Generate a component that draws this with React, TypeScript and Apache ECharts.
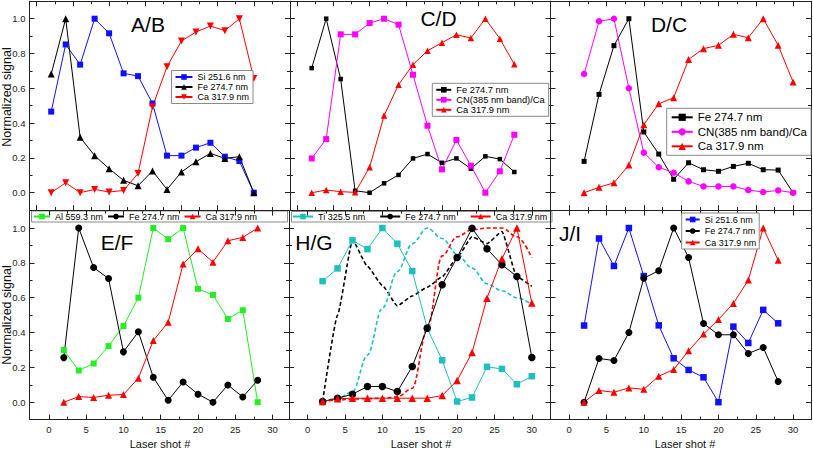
import React, { useEffect, useRef } from 'react';
import * as echarts from 'echarts';

// ---------- data ----------
const shots2to30 = [2, 4, 6, 8, 10, 12, 14, 16, 18, 20, 22, 24, 26, 28, 30];
const shots2to28 = [2, 4, 6, 8, 10, 12, 14, 16, 18, 20, 22, 24, 26, 28];

const yTickLabels = [0, 0.2, 0.4, 0.6, 0.8, 1.0];
const yMinorTicks = [0.1, 0.3, 0.5, 0.7, 0.9];
const xTickLabels = [0, 5, 10, 15, 20, 25, 30, 35];
const xMinorTicks = [2.5, 7.5, 12.5, 17.5, 22.5, 27.5, 32.5];

// A/B
const abSi = [0.466, 0.852, 0.736, 1.0, 0.916, 0.686, 0.67, 0.513, 0.213, 0.213, 0.259, 0.287, 0.207, 0.182, 0.0];
const abFe = [0.682, 1.0, 0.318, 0.213, 0.138, 0.071, 0.04, 0.125, 0.019, 0.119, 0.178, 0.226, 0.197, 0.207, 0.0];
const abCa = [0.0, 0.057, 0.0, 0.019, 0.004, 0.013, 0.111, 0.494, 0.724, 0.872, 0.923, 0.958, 0.931, 1.0, 0.657];

// C/D
const cdFe = [0.716, 1.0, 0.653, 0.011, 0.0, 0.054, 0.102, 0.197, 0.222, 0.172, 0.197, 0.138, 0.209, 0.193, 0.119];
const cdCN = [0.197, 0.308, 0.91, 0.91, 0.975, 1.0, 0.966, 0.678, 0.385, 0.134, 0.303, 0.155, 0.0, 0.123, 0.333];
const cdCa = [0.0, 0.015, 0.006, 0.002, 0.146, 0.443, 0.621, 0.736, 0.816, 0.862, 0.908, 0.889, 1.0, 0.885, 0.738];

// D/C
const dcFe = [0.18, 0.565, 0.845, 1.0, 0.349, 0.222, 0.077, 0.172, 0.132, 0.123, 0.151, 0.169, 0.132, 0.13, 0.0];
const dcCN = [0.682, 0.985, 1.0, 0.6, 0.23, 0.146, 0.115, 0.065, 0.036, 0.036, 0.036, 0.015, 0.004, 0.013, 0.0];
const dcCa = [0.0, 0.031, 0.057, 0.159, 0.391, 0.511, 0.546, 0.766, 0.828, 0.847, 0.91, 0.891, 1.0, 0.847, 0.636];

// E/F
const efAl = [0.299, 0.182, 0.222, 0.322, 0.437, 0.6, 1.0, 0.936, 1.0, 0.651, 0.616, 0.478, 0.528, 0.0];
const efFe = [0.256, 1.0, 0.773, 0.71, 0.289, 0.404, 0.143, 0.011, 0.116, 0.046, 0.0, 0.099, 0.03, 0.126];
const efCa = [0.0, 0.032, 0.027, 0.04, 0.044, 0.138, 0.354, 0.459, 0.793, 0.881, 0.804, 0.927, 0.946, 1.0];

// H/G
const hgTi = [0.695, 0.768, 0.929, 0.879, 1.0, 0.91, 0.753, 0.425, 0.241, 0.004, 0.027, 0.203, 0.191, 0.103, 0.149];
const hgFe = [0.004, 0.023, 0.046, 0.09, 0.09, 0.061, 0.205, 0.425, 0.674, 0.831, 0.998, 0.881, 0.789, 0.722, 0.257];
const hgCa = [0.004, 0.019, 0.023, 0.023, 0.023, 0.023, 0.023, 0.023, 0.038, 0.124, 0.285, 0.597, 0.823, 1.0, 0.569];
const hgFeDashed = [0.004, 0.5, 0.93, 0.78, 0.67, 0.553, 0.61, 0.66, 0.72, 0.83, 0.95, 0.91, 0.98, 0.72, 0.665];
const hgTiDashed = [0.004, 0.02, 0.06, 0.27, 0.54, 0.75, 0.91, 1.0, 0.94, 0.85, 0.77, 0.68, 0.64, 0.6, 0.56];
const hgCaDashed = [0.004, 0.012, 0.018, 0.02, 0.022, 0.03, 0.08, 0.42, 0.84, 0.95, 0.99, 1.0, 1.0, 0.95, 0.83];

// J/I
const jiSi = [0.44, 0.94, 0.782, 1.0, 0.724, 0.441, 0.252, 0.185, 0.143, 0.0, 0.434, 0.34, 0.53, 0.453];
const jiFe = [0.0, 0.251, 0.239, 0.4, 0.712, 0.755, 1.0, 0.831, 0.452, 0.387, 0.387, 0.28, 0.314, 0.119];
const jiCa = [0.0, 0.067, 0.057, 0.082, 0.074, 0.149, 0.188, 0.295, 0.391, 0.475, 0.567, 0.701, 1.0, 0.815];

// ---------- layout ----------
const FONT = '"Liberation Sans", Arial, Helvetica, sans-serif';
const panels = [
  { left: 29.5, top: 1.3, width: 260.5, height: 208.8, xmin: -1, xmax: 35 },
  { left: 290, top: 1.3, width: 260.5, height: 208.8, xmin: -1, xmax: 35 },
  { left: 550.5, top: 1.3, width: 260.5, height: 208.8, xmin: -2.5, xmax: 32.4 },
  { left: 29.5, top: 210.6, width: 259.5, height: 209, xmin: -2.6, xmax: 32.2 },
  { left: 289, top: 210.6, width: 261.5, height: 209, xmin: -2.5, xmax: 32.5 },
  { left: 550.5, top: 210.6, width: 260.5, height: 209, xmin: -2.5, xmax: 32.4 },
];

const C = {
  blue: '#1010ff',
  black: '#000000',
  red: '#ff0000',
  magenta: '#ff00ff',
  green: '#22ee22',
  cyan: '#1fbfbf',
};

function buildAxes() {
  const xAxis: any[] = [];
  const yAxis: any[] = [];
  panels.forEach((p, i) => {
    const bottomRow = i >= 3;
    const leftCol = i % 3 === 0;
    const inX = (v: number) => v > p.xmin + 0.01 && v < p.xmax - 0.01;
    const xMaj = xTickLabels.filter(inX);
    const xMin = xMinorTicks.filter(inX);
    const axLine = { show: true, onZero: false, lineStyle: { color: '#222', width: 1 } };
    const mkX = (pos: string, ticks: number[], len: number, labels: boolean) => ({
      type: 'value',
      gridIndex: i,
      position: pos,
      min: p.xmin,
      max: p.xmax,
      axisLine: axLine,
      axisTick: { show: true, inside: true, length: len, customValues: ticks, lineStyle: { color: '#222', width: 1 } },
      axisLabel: labels
        ? { show: true, customValues: ticks, margin: 5, fontSize: 9.5, color: '#222', fontFamily: FONT }
        : { show: false, customValues: ticks },
      splitLine: { show: false },
    });
    xAxis.push(mkX('bottom', xMaj, 5, bottomRow));
    xAxis.push(mkX('bottom', xMin, 3, false));
    xAxis.push(mkX('top', xMaj, 5, false));
    xAxis.push(mkX('top', xMin, 3, false));
    const mkY = (pos: string, ticks: number[], len: number, labels: boolean) => ({
      type: 'value',
      gridIndex: i,
      position: pos,
      min: -0.1,
      max: 1.1,
      axisLine: axLine,
      axisTick: { show: true, inside: true, length: len, customValues: ticks, lineStyle: { color: '#222', width: 1 } },
      axisLabel: labels
        ? {
            show: true,
            customValues: ticks,
            margin: 4,
            fontSize: 9.5,
            color: '#222',
            fontFamily: FONT,
            formatter: (v: number) => v.toFixed(1),
          }
        : { show: false, customValues: ticks },
      splitLine: { show: false },
    });
    yAxis.push(mkY('left', yTickLabels, 5, leftCol));
    yAxis.push(mkY('left', yMinorTicks, 3, false));
    yAxis.push(mkY('right', yTickLabels, 5, false));
    yAxis.push(mkY('right', yMinorTicks, 3, false));
  });
  return { xAxis, yAxis };
}

function line(
  panel: string,
  label: string,
  gi: number,
  xs: number[],
  ys: number[],
  color: string,
  symbol: string,
  size: number,
  extra: any = {}
) {
  return {
    type: 'line',
    name: `${panel}|${label}`,
    xAxisIndex: gi * 4,
    yAxisIndex: gi * 4,
    data: xs.map((x, k) => [x, ys[k]]),
    symbol,
    symbolSize: size,
    showSymbol: true,
    lineStyle: { color, width: 1 },
    itemStyle: { color, borderWidth: 0 },
    emphasis: { disabled: true },
    silent: true,
    ...extra,
  };
}

function dashed(panel: string, label: string, gi: number, xs: number[], ys: number[], color: string, smooth: number) {
  return {
    type: 'line',
    name: `${panel}|${label}`,
    xAxisIndex: gi * 4,
    yAxisIndex: gi * 4,
    data: xs.map((x, k) => [x, ys[k]]),
    symbol: 'none',
    smooth,
    smoothMonotone: 'x',
    lineStyle: { color, width: 1.6, type: [4, 2.5] },
    itemStyle: { color },
    emphasis: { disabled: true },
    silent: true,
  };
}

function legend(extra: any) {
  return {
    formatter: (n: string) => n.split('|')[1],
    orient: 'vertical',
    selectedMode: false,
    backgroundColor: '#fff',
    borderColor: '#8a8a8a',
    borderWidth: 1,
    borderRadius: 0,
    padding: [2, 4, 2, 3],
    itemGap: 1,
    itemWidth: 17,
    itemHeight: 7,
    textStyle: { fontSize: 9, color: '#000', fontFamily: FONT },
    ...extra,
  };
}

function title(text: string, x: number, y: number) {
  return {
    type: 'text',
    x,
    y,
    silent: true,
    style: {
      text,
      fontSize: 21,
      fontFamily: FONT,
      fill: '#000',
      align: 'center',
      verticalAlign: 'middle',
      textAlign: 'center',
      textVerticalAlign: 'middle',
    },
  };
}

function label(text: string, x: number, y: number, size: number, rotate = false) {
  return {
    type: 'text',
    x,
    y,
    rotation: rotate ? Math.PI / 2 : 0,
    silent: true,
    style: {
      text,
      fontSize: size,
      fontFamily: FONT,
      fill: '#111',
      align: 'center',
      verticalAlign: 'middle',
      textAlign: 'center',
      textVerticalAlign: 'middle',
    },
  };
}

export default function App() {
  const ref = useRef<HTMLDivElement>(null);
  useEffect(() => {
    document.body.style.margin = '0';
    const chart = echarts.init(ref.current!, undefined, { renderer: 'svg' });
    const { xAxis, yAxis } = buildAxes();
    const series = [
      line('A/B', 'Si 251.6 nm', 0, shots2to30, abSi, C.blue, 'rect', 6),
      line('A/B', 'Fe 274.7 nm', 0, shots2to30, abFe, C.black, 'triangle', 7),
      line('A/B', 'Ca 317.9 nm', 0, shots2to30, abCa, C.red, 'triangle', 7, { symbolRotate: 180 }),

      line('C/D', 'Fe 274.7 nm', 1, shots2to30, cdFe, C.black, 'rect', 4.5),
      line('C/D', 'CN(385 nm band)/Ca', 1, shots2to30, cdCN, C.magenta, 'rect', 6),
      line('C/D', 'Ca 317.9 nm', 1, shots2to30, cdCa, C.red, 'triangle', 6.5),

      line('D/C', 'Fe 274.7 nm', 2, shots2to30, dcFe, C.black, 'rect', 5),
      line('D/C', 'CN(385 nm band)/Ca', 2, shots2to30, dcCN, C.magenta, 'circle', 6.5),
      line('D/C', 'Ca 317.9 nm', 2, shots2to30, dcCa, C.red, 'triangle', 7),

      line('E/F', 'Al 559.3 nm', 3, shots2to28, efAl, C.green, 'rect', 6),
      line('E/F', 'Fe 274.7 nm', 3, shots2to28, efFe, C.black, 'circle', 7),
      line('E/F', 'Ca 317.9 nm', 3, shots2to28, efCa, C.red, 'triangle', 7),

      dashed('H/G', 'Fe dashed', 4, shots2to30, hgFeDashed, C.black, 0.15),
      dashed('H/G', 'Ti dashed', 4, shots2to30, hgTiDashed, C.cyan, 0.35),
      dashed('H/G', 'Ca dashed', 4, shots2to30, hgCaDashed, C.red, 0.35),
      line('H/G', 'Ti 325.5 nm', 4, shots2to30, hgTi, C.cyan, 'rect', 6.5),
      line('H/G', 'Fe 274.7 nm', 4, shots2to30, hgFe, C.black, 'circle', 7.5),
      line('H/G', 'Ca 317.9 nm', 4, shots2to30, hgCa, C.red, 'triangle', 7.5),

      line('J/I', 'Si 251.6 nm', 5, shots2to28, jiSi, C.blue, 'rect', 6.5),
      line('J/I', 'Fe 274.7 nm', 5, shots2to28, jiFe, C.black, 'circle', 7),
      line('J/I', 'Ca 317.9 nm', 5, shots2to28, jiCa, C.red, 'triangle', 7),
    ];

    const names = (p: string, labels: string[]) => labels.map((l) => `${p}|${l}`);

    chart.setOption({
      animation: false,
      textStyle: { fontFamily: FONT },
      grid: panels.map((p) => ({
        left: p.left,
        top: p.top,
        width: p.width,
        height: p.height,
        containLabel: false,
        show: false,
      })),
      xAxis,
      yAxis,
      legend: [
        legend({ left: 171.5, top: 70.5, data: names('A/B', ['Si 251.6 nm', 'Fe 274.7 nm', 'Ca 317.9 nm']) }),
        legend({
          left: 432.3,
          top: 83.3,
          itemWidth: 15,
          textStyle: { fontSize: 9.3, color: '#000', fontFamily: FONT },
          data: names('C/D', ['Fe 274.7 nm', 'CN(385 nm band)/Ca', 'Ca 317.9 nm']),
        }),
        legend({
          left: 666.7,
          top: 108.3,
          itemWidth: 21,
          itemHeight: 9,
          itemGap: 2.5,
          padding: [3, 4, 3, 4],
          textStyle: { fontSize: 11.5, color: '#000', fontFamily: FONT },
          data: names('D/C', ['Fe 274.7 nm', 'CN(385 nm band)/Ca', 'Ca 317.9 nm']),
        }),
        legend({
          left: 33,
          top: 212,
          orient: 'horizontal',
          backgroundColor: 'transparent',
          borderWidth: 0,
          padding: 0,
          itemGap: 4,
          itemWidth: 16,
          data: names('E/F', ['Al 559.3 nm', 'Fe 274.7 nm', 'Ca 317.9 nm']),
        }),
        legend({
          left: 292,
          top: 212,
          orient: 'horizontal',
          backgroundColor: 'transparent',
          borderWidth: 0,
          padding: 0,
          itemGap: 14,
          itemWidth: 20,
          data: names('H/G', ['Ti 325.5 nm', 'Fe 274.7 nm', 'Ca 317.9 nm']),
        }),
        legend({
          left: 681.7,
          top: 213,
          itemWidth: 14,
          itemGap: 2.5,
          padding: [2, 3, 2, 3],
          data: names('J/I', ['Si 251.6 nm', 'Fe 274.7 nm', 'Ca 317.9 nm']),
        }),
      ],
      graphic: [
        {
          type: 'rect',
          shape: { x: 31.5, y: 211, width: 256, height: 11 },
          style: { fill: '#fff', stroke: '#8a8a8a', lineWidth: 1 },
          silent: true,
        },
        {
          type: 'rect',
          shape: { x: 291.5, y: 211.5, width: 260.5, height: 10.5 },
          style: { fill: '#fff', stroke: '#8a8a8a', lineWidth: 1 },
          silent: true,
        },
        title('A/B', 148, 24),
        title('C/D', 438.5, 18.5),
        title('D/C', 669, 24),
        title('E/F', 117, 242),
        title('H/G', 314, 242),
        title('J/I', 570, 233.5),
        label('Normalized signal', 7, 97, 12.5, true),
        label('Normalized signal', 7, 315, 12.5, true),
        label('Laser shot #', 160, 444, 11),
        label('Laser shot #', 421, 444, 11),
        label('Laser shot #', 685, 444, 11),
      ],
      series,
    });
    return () => chart.dispose();
  }, []);
  return <div ref={ref} style={{ position: 'absolute', left: 0, top: 0, width: 813, height: 450 }} />;
}
